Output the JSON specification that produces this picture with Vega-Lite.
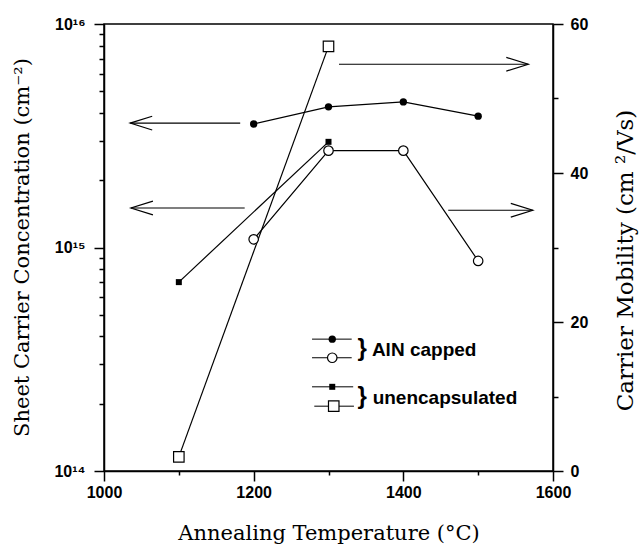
{
  "$schema": "https://vega.github.io/schema/vega-lite/v6.json",
  "width": 449,
  "height": 447,
  "autosize": {"type": "none"},
  "padding": {"left": 104, "top": 24, "right": 86, "bottom": 85},
  "background": "white",
  "config": {
    "view": {"stroke": "black", "strokeWidth": 1.5},
    "axis": {
      "domainColor": "black",
      "domainWidth": 1.5,
      "tickColor": "black",
      "tickWidth": 1.5,
      "labelFont": "Liberation Sans",
      "labelFontWeight": "bold",
      "labelFontSize": 16,
      "labelColor": "black",
      "titleFont": "DejaVu Serif",
      "titleFontWeight": "normal",
      "titleFontSize": 21,
      "titleColor": "black",
      "grid": false,
      "labelOverlap": false,
      "labelBound": false,
      "labelFlush": false
    }
  },
  "datasets": {
    "conc": [
      {"T": 1200, "v": 3.57e15, "s": "AlN"},
      {"T": 1300, "v": 4.26e15, "s": "AlN"},
      {"T": 1400, "v": 4.48e15, "s": "AlN"},
      {"T": 1500, "v": 3.87e15, "s": "AlN"},
      {"T": 1100, "v": 7.0e14, "s": "unenc"},
      {"T": 1300, "v": 2.97e15, "s": "unenc"}
    ],
    "mob": [
      {"T": 1200, "m": 31.1, "s": "AlN"},
      {"T": 1300, "m": 43, "s": "AlN"},
      {"T": 1400, "m": 43, "s": "AlN"},
      {"T": 1500, "m": 28.2, "s": "AlN"},
      {"T": 1100, "m": 1.9, "s": "unenc"},
      {"T": 1300, "m": 57, "s": "unenc"}
    ],
    "arrows": [
      {"T": 1035, "T2": 1182, "m": 46.7, "dir": "left"},
      {"T": 1314, "T2": 1567, "m": 54.6, "dir": "right"},
      {"T": 1036, "T2": 1188, "m": 35.3, "dir": "left"},
      {"T": 1460, "T2": 1573, "m": 35.0, "dir": "right"}
    ],
    "legLines": [
      {"T": 1278, "T2": 1331, "m": 17.7},
      {"T": 1278, "T2": 1331, "m": 15.2},
      {"T": 1278, "T2": 1333, "m": 11.3},
      {"T": 1281, "T2": 1334, "m": 8.7}
    ],
    "legMarks": [
      {"T": 1305, "m": 17.7, "k": "fc"},
      {"T": 1305, "m": 15.2, "k": "oc"},
      {"T": 1305, "m": 11.3, "k": "fs"},
      {"T": 1307, "m": 8.7, "k": "os"}
    ],
    "legText": [
      {"T": 1358, "m": 16.2, "label": "AlN capped"},
      {"T": 1359, "m": 9.8, "label": "unencapsulated"}
    ],
    "braces": [
      {"T": 1345, "m": 16.4, "label": "}"},
      {"T": 1345, "m": 10.0, "label": "}"}
    ]
  },
  "encoding": {
    "x": {
      "field": "T",
      "type": "quantitative",
      "scale": {"domain": [1000, 1600], "nice": false, "zero": false},
      "axis": null
    }
  },
  "layer": [
    {
      "resolve": {"axis": {"x": "independent", "y": "independent"}},
      "layer": [
        {
          "data": {"name": "conc"},
          "mark": {"type": "line", "color": "black", "strokeWidth": 1.2},
          "encoding": {
            "x": {
              "field": "T",
              "type": "quantitative",
              "scale": {"domain": [1000, 1600], "nice": false, "zero": false},
              "axis": {
                "orient": "bottom",
                "title": "Annealing Temperature (°C)",
                "values": [1000, 1200, 1400, 1600],
                "format": "d",
                "tickSize": 10,
                "labelPadding": 3,
                "titlePadding": 22
              }
            },
            "y": {
              "field": "v",
              "type": "quantitative",
              "scale": {"type": "log", "domain": [1e14, 1e16], "nice": false},
              "axis": {
                "orient": "left",
                "title": "Sheet Carrier Concentration (cm⁻²)",
                "values": [1e14, 1e15, 1e16],
                "labelExpr": "datum.value == 1e14 ? '10¹⁴' : datum.value == 1e15 ? '10¹⁵' : '10¹⁶'",
                "tickSize": 10,
                "labelPadding": 9,
                "titleX": -82,
                "titleY": 223,
                "titleAlign": "center",
                "titleBaseline": "middle",
                "titleAngle": -90
              }
            },
            "detail": {"field": "s"}
          }
        },
        {
          "data": {"name": "conc"},
          "transform": [{"filter": "datum.s == 'AlN'"}],
          "mark": {"type": "point", "shape": "circle", "size": 54, "filled": true, "color": "black", "opacity": 1},
          "encoding": {
            "x": {
              "field": "T",
              "type": "quantitative",
              "scale": {"domain": [1000, 1600], "nice": false, "zero": false},
              "axis": {
                "orient": "bottom",
                "title": null,
                "values": [1100, 1300, 1500],
                "labels": false,
                "domain": false,
                "tickSize": 4
              }
            },
            "y": {
              "field": "v",
              "type": "quantitative",
              "axis": {
                "orient": "left",
                "title": null,
                "values": [2e14, 3e14, 4e14, 5e14, 6e14, 7e14, 8e14, 9e14, 2e15, 3e15, 4e15, 5e15, 6e15, 7e15, 8e15, 9e15],
                "labels": false,
                "domain": false,
                "tickSize": 5
              }
            }
          }
        },
        {
          "data": {"name": "conc"},
          "transform": [{"filter": "datum.s == 'unenc'"}],
          "mark": {"type": "point", "shape": "square", "size": 36, "filled": true, "color": "black", "opacity": 1},
          "encoding": {
            "y": {"field": "v", "type": "quantitative", "axis": null}
          }
        }
      ]
    },
    {
      "resolve": {"axis": {"y": "independent"}},
      "layer": [
        {
          "data": {"name": "mob"},
          "mark": {"type": "line", "color": "black", "strokeWidth": 1.2},
          "encoding": {
            "y": {
              "field": "m",
              "type": "quantitative",
              "scale": {"domain": [0, 60], "nice": false},
              "axis": {
                "orient": "right",
                "title": "Carrier Mobility (cm ²/Vs)",
                "titleFontSize": 23,
                "values": [0, 20, 40, 60],
                "tickSize": 10,
                "labelPadding": 7,
                "titleX": 72,
                "titleY": 236,
                "titleAlign": "center",
                "titleBaseline": "middle",
                "titleAngle": -90
              }
            },
            "detail": {"field": "s"}
          }
        },
        {
          "data": {"name": "mob"},
          "transform": [{"filter": "datum.s == 'AlN'"}],
          "mark": {"type": "point", "shape": "circle", "size": 90, "filled": true, "fill": "white", "stroke": "black", "strokeWidth": 1.2, "opacity": 1},
          "encoding": {
            "y": {
              "field": "m",
              "type": "quantitative",
              "axis": {
                "orient": "right",
                "title": null,
                "values": [10, 30, 50],
                "labels": false,
                "domain": false,
                "tickSize": 5
              }
            }
          }
        },
        {
          "data": {"name": "mob"},
          "transform": [{"filter": "datum.s == 'unenc'"}],
          "mark": {"type": "point", "shape": "square", "size": 110, "filled": true, "fill": "white", "stroke": "black", "strokeWidth": 1.2, "opacity": 1},
          "encoding": {
            "y": {"field": "m", "type": "quantitative", "axis": null}
          }
        },
        {
          "data": {"name": "arrows"},
          "mark": {"type": "rule", "color": "black", "strokeWidth": 1.2},
          "encoding": {
            "y": {"field": "m", "type": "quantitative", "axis": null},
            "x2": {"field": "T2"}
          }
        },
        {
          "data": {"name": "arrows"},
          "transform": [{"filter": "datum.dir == 'right'"}],
          "mark": {"type": "point", "shape": "M -4 -1.25 L 0 0 L -4 1.25", "filled": false, "stroke": "black", "strokeWidth": 1.2, "size": 121, "opacity": 1},
          "encoding": {
            "x": {"field": "T2", "type": "quantitative", "axis": null},
            "y": {"field": "m", "type": "quantitative", "axis": null}
          }
        },
        {
          "data": {"name": "arrows"},
          "transform": [{"filter": "datum.dir == 'left'"}],
          "mark": {"type": "point", "shape": "M 4 -1.25 L 0 0 L 4 1.25", "filled": false, "stroke": "black", "strokeWidth": 1.2, "size": 121, "opacity": 1},
          "encoding": {
            "y": {"field": "m", "type": "quantitative", "axis": null}
          }
        },
        {
          "data": {"name": "legLines"},
          "mark": {"type": "rule", "color": "black", "strokeWidth": 1},
          "encoding": {
            "y": {"field": "m", "type": "quantitative", "axis": null},
            "x2": {"field": "T2"}
          }
        },
        {
          "data": {"name": "legMarks"},
          "transform": [{"filter": "datum.k == 'fc'"}],
          "mark": {"type": "point", "shape": "circle", "size": 54, "filled": true, "color": "black", "opacity": 1},
          "encoding": {
            "y": {"field": "m", "type": "quantitative", "axis": null}
          }
        },
        {
          "data": {"name": "legMarks"},
          "transform": [{"filter": "datum.k == 'oc'"}],
          "mark": {"type": "point", "shape": "circle", "size": 90, "filled": true, "fill": "white", "stroke": "black", "strokeWidth": 1.2, "opacity": 1},
          "encoding": {
            "y": {"field": "m", "type": "quantitative", "axis": null}
          }
        },
        {
          "data": {"name": "legMarks"},
          "transform": [{"filter": "datum.k == 'fs'"}],
          "mark": {"type": "point", "shape": "square", "size": 36, "filled": true, "color": "black", "opacity": 1},
          "encoding": {
            "y": {"field": "m", "type": "quantitative", "axis": null}
          }
        },
        {
          "data": {"name": "legMarks"},
          "transform": [{"filter": "datum.k == 'os'"}],
          "mark": {"type": "point", "shape": "square", "size": 110, "filled": true, "fill": "white", "stroke": "black", "strokeWidth": 1.2, "opacity": 1},
          "encoding": {
            "y": {"field": "m", "type": "quantitative", "axis": null}
          }
        },
        {
          "data": {"name": "legText"},
          "mark": {"type": "text", "font": "Liberation Sans", "fontWeight": "bold", "fontSize": 19, "align": "left", "baseline": "middle", "color": "black"},
          "encoding": {
            "y": {"field": "m", "type": "quantitative", "axis": null},
            "text": {"field": "label"}
          }
        },
        {
          "data": {"name": "braces"},
          "mark": {"type": "text", "font": "Liberation Sans", "fontWeight": "bold", "fontSize": 24, "align": "center", "baseline": "middle", "color": "black"},
          "encoding": {
            "y": {"field": "m", "type": "quantitative", "axis": null},
            "text": {"field": "label"}
          }
        }
      ]
    }
  ],
  "resolve": {"scale": {"y": "independent"}}
}
